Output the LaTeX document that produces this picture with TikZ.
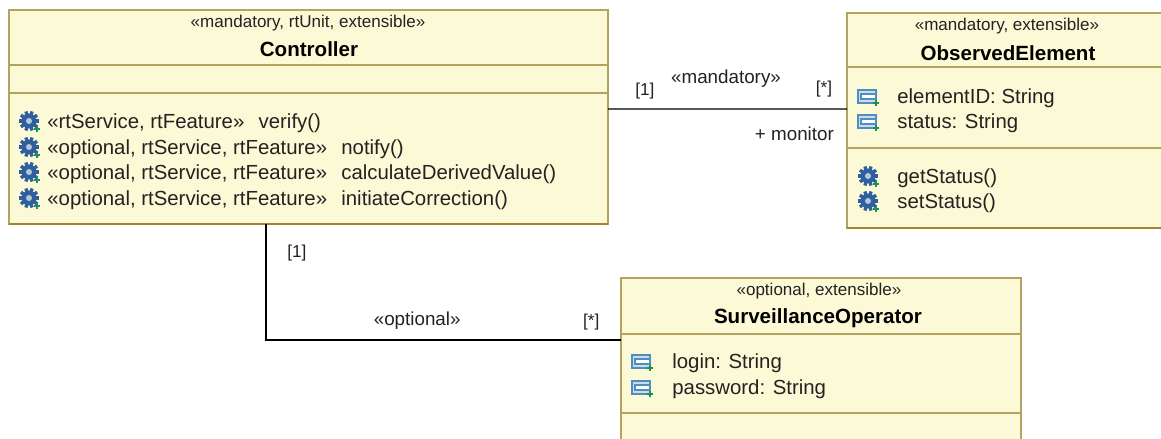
\documentclass[tikz,border=0pt]{standalone}
\usepackage{fontspec}
\setmainfont{Liberation Sans}
\usetikzlibrary{positioning}

\definecolor{boxfill}{HTML}{FBF9D6}
\definecolor{boxline}{HTML}{B5A25E}
\definecolor{boxedge}{HTML}{A5842F}
\definecolor{gearblue}{HTML}{2F5F9E}
\definecolor{iconblue}{HTML}{4F8FBF}
\definecolor{plusgreen}{HTML}{1E8E5A}
\definecolor{inktext}{HTML}{222222}

\tikzset{
	compart/.style={draw=boxline, fill=boxfill, line width=0.8pt, inner sep=0pt, outer sep=0pt, anchor=north west},
	stereo/.style={inner sep=0pt, text=inktext, font=\fontsize{9.7}{11}\selectfont},
	classname/.style={inner sep=0pt, text=black, font=\fontsize{11.7}{13}\selectfont\bfseries},
	member/.style={inner sep=0pt, anchor=west, text=inktext, font=\fontsize{11.6}{13}\selectfont},
	assoc/.style={inner sep=0pt, text=inktext, font=\fontsize{10.7}{12}\selectfont},
	mult/.style={inner sep=0pt, text=inktext, font=\fontsize{9.8}{11}\selectfont},
	plusmark/.pic={
		\draw [plusgreen, line width=0.8pt] (4,0) -- (10,0) (7,-3) -- (7,3);
	},
	gearicon/.pic={
		\foreach \a in {0,36,...,324}
			\draw [gearblue, line width=1.9pt] (\a:5) -- (\a:10);
		\fill [gearblue] (0,0) circle (7.5);
		\fill [white!65!gearblue] (0,0) circle (3);
		\pic at (1,8) {plusmark};
	},
	attricon/.pic={
		\draw [iconblue, fill=white!70!iconblue, line width=0.8pt] (-10,-7) rectangle (8,6);
		\draw [iconblue, fill=white, line width=0.7pt] (-7,-3) rectangle (8,2);
		\pic at (1,6) {plusmark};
	}
}

\begin{document}
\begin{tikzpicture}[x=0.02cm, y=-0.02cm]
	\useasboundingbox (0,0) rectangle (1161,439);

	% Controller
	\node [compart, minimum width=11.98cm, minimum height=1.10cm] (ctrlHead) at (9,10) {};
	\node [compart, minimum width=11.98cm, minimum height=0.56cm, below=0pt of ctrlHead] (ctrlAttr) {};
	\node [compart, minimum width=11.98cm, minimum height=2.62cm, below=0pt of ctrlAttr] (ctrlOps) {};
	\draw [boxedge, line width=1.3pt] (ctrlOps.south west) -- (ctrlOps.south east);
	\node [stereo] (ctrlStereo) at (308,23) {«mandatory, rtUnit, extensible»};
	\node [classname] (ctrlName) at (309,49) {Controller};
	\pic at (29,121) {gearicon};
	\pic at (29,147) {gearicon};
	\pic at (29,172) {gearicon};
	\pic at (29,198) {gearicon};
	\node [member] (verify) at (47,123) {«rtService, rtFeature»\hspace{0.7em}verify()};
	\node [member] (notify) at (47,149) {«optional, rtService, rtFeature»\hspace{0.7em}notify()};
	\node [member] (derived) at (47,174) {«optional, rtService, rtFeature»\hspace{0.7em}calculateDerivedValue()};
	\node [member] (correct) at (47,200) {«optional, rtService, rtFeature»\hspace{0.7em}initiateCorrection()};

	% ObservedElement
	\node [compart, minimum width=6.42cm, minimum height=1.08cm] (obsHead) at (847,13) {};
	\node [compart, minimum width=6.42cm, minimum height=1.62cm, below=0pt of obsHead] (obsAttr) {};
	\node [compart, minimum width=6.42cm, minimum height=1.60cm, below=0pt of obsAttr] (obsOps) {};
	\draw [boxedge, line width=1.3pt] (obsOps.south west) -- (obsOps.south east);
	\node [stereo] (obsStereo) at (1007,26) {«mandatory, extensible»};
	\node [classname] (obsName) at (1008,53) {ObservedElement};
	\pic at (868,97) {attricon};
	\pic at (868,122) {attricon};
	\pic at (868,176) {gearicon};
	\pic at (868,201) {gearicon};
	\node [member] (elementID) at (897,98) {elementID: String};
	\node [member] (status) at (897,123) {status: String};
	\node [member] (getStatus) at (897,178) {getStatus()};
	\node [member] (setStatus) at (897,203) {setStatus()};

	% SurveillanceOperator
	\node [compart, minimum width=8.00cm, minimum height=1.12cm] (survHead) at (621,278) {};
	\node [compart, minimum width=8.00cm, minimum height=1.58cm, below=0pt of survHead] (survAttr) {};
	\node [compart, minimum width=8.00cm, minimum height=1.20cm, below=0pt of survAttr] (survOps) {};
	\node [stereo] (survStereo) at (819,291) {«optional, extensible»};
	\node [classname] (survName) at (818,318) {SurveillanceOperator};
	\pic at (642,362) {attricon};
	\pic at (642,388) {attricon};
	\node [member] (login) at (672,363) {login: String};
	\node [member] (password) at (672,389) {password: String};

	% associations
	\draw [line width=0.8pt] ([yshift=-0.32cm]ctrlOps.north east) to
		node [mult, pos=0.155, yshift=0.35cm] {[1]}
		node [assoc, pos=0.494, yshift=0.60cm] {«mandatory»}
		node [mult, pos=0.904, yshift=0.40cm] {[*]}
		node [assoc, pos=0.78, yshift=-0.50cm] {+ monitor}
		([yshift=-0.84cm]obsAttr.north west);
	\draw [line width=0.8pt] ([xshift=-0.85cm]ctrlOps.south) |-
		node [mult, pos=0.127, xshift=0.62cm] {[1]}
		node [assoc, pos=0.713, yshift=0.39cm] {«optional»}
		node [mult, pos=0.958, yshift=0.36cm] {[*]}
		([yshift=-0.12cm]survAttr.north west);
\end{tikzpicture}
\end{document}
